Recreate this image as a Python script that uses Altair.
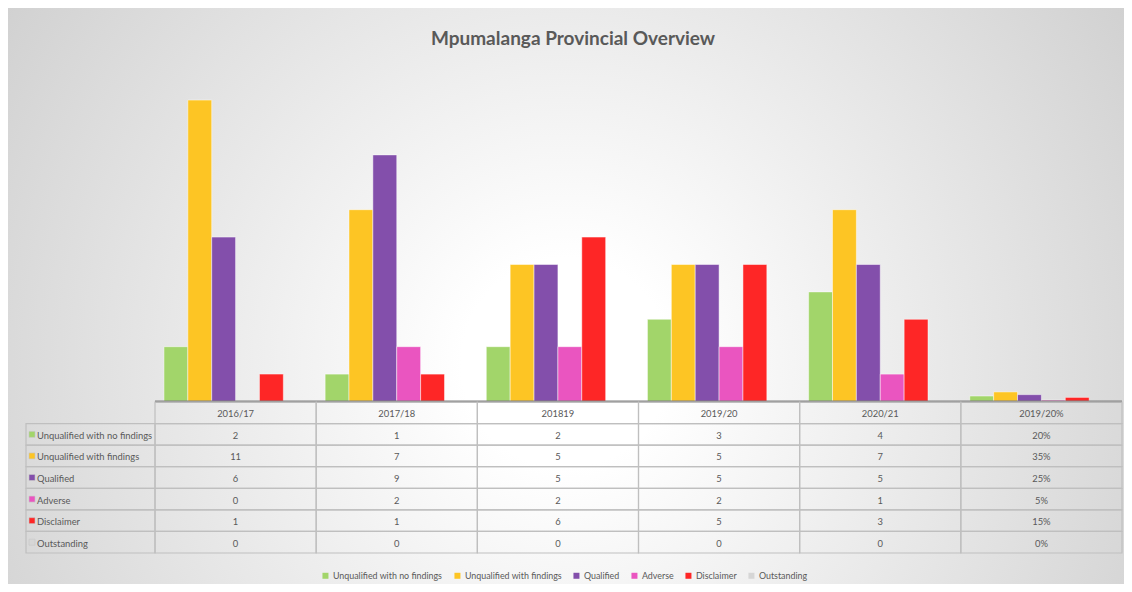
import altair as alt
import pandas as pd

# ---------------- data ----------------
categories = ["2016/17", "2017/18", "201819", "2019/20", "2020/21", "2019/20%"]
series = ["Unqualified with no findings", "Unqualified with findings", "Qualified",
          "Adverse", "Disclaimer", "Outstanding"]
no_findings = [2, 1, 2, 3, 4, 0.20]
with_findings = [11, 7, 5, 5, 7, 0.35]
qualified = [6, 9, 5, 5, 5, 0.25]
adverse = [0, 2, 2, 2, 1, 0.05]
disclaimer = [1, 1, 6, 5, 3, 0.15]
outstanding = [0, 0, 0, 0, 0, 0]
colors = ["#a2d56a", "#fdc524", "#834fab", "#ea55c0", "#fe2626", "#d6d6d6"]
title_text = "Mpumalanga Provincial Overview"

all_values = [no_findings, with_findings, qualified, adverse, disclaimer, outstanding]
rows = []
for s, vals in zip(series, all_values):
    for c, v in zip(categories, vals):
        label = f"{round(v * 100)}%" if c.endswith("%") else f"{v:g}"
        rows.append({"category": c, "series": s, "value": v, "label": label, "row": s})
df = pd.DataFrame(rows)
bars_df = df[df["value"] > 0]
header_df = pd.DataFrame({"category": categories, "row": "header"})
series_df = pd.DataFrame({"series": series, "row": series})
one = pd.DataFrame({"a": [0]})

# ---------------- style ----------------
W, H = 1116, 576
FONT = "Lato, sans-serif"
TXT = "#595959"
GRID = "#bfbfbf"
FS = 9.4
LFS = 8.9

X_SCALE = alt.Scale(domain=categories, range=[147, 1114], paddingInner=0, paddingOuter=0)
COLOR_SCALE = alt.Scale(domain=series, range=colors)
ROW_SCALE = alt.Scale(domain=["header"] + series, range=[394, 545], paddingInner=0, paddingOuter=0)

# background
bg = alt.Chart(one).mark_rect(
    fill={"gradient": "radial", "x1": 0.5, "y1": 0.56, "r1": 0, "x2": 0.5, "y2": 0.56, "r2": 0.78,
          "stops": [{"offset": 0, "color": "#ffffff"}, {"offset": 0.12, "color": "#ffffff"},
                    {"offset": 1, "color": "#c0c0c0"}]},
).encode(x=alt.value(0), x2=alt.value(W), y=alt.value(0), y2=alt.value(H))

# bars
bars = alt.Chart(bars_df).mark_bar(stroke="white", strokeWidth=0.8, strokeOpacity=0.6).encode(
    x=alt.X("category:N", scale=X_SCALE, axis=None, sort=categories),
    xOffset=alt.XOffset("series:N", scale=alt.Scale(domain=series, paddingInner=0, paddingOuter=0.375)),
    y=alt.Y("value:Q", scale=alt.Scale(domain=[0, 12], range=[393.5, 64.7], nice=False, zero=True), axis=None),
    color=alt.Color("series:N", scale=COLOR_SCALE, legend=alt.Legend(
        orient="none", legendX=313, legendY=563, direction="horizontal", columns=6, title=None,
        symbolType="square", symbolSize=36, symbolStrokeWidth=0, labelFont=FONT, labelFontSize=LFS,
        labelColor=TXT, columnPadding=10, labelOffset=3, padding=0)),
)
baseline = alt.Chart(one).mark_rule(color="#808080", strokeWidth=2).encode(
    x=alt.value(147), x2=alt.value(1114), y=alt.datum(0))
top = alt.layer(bars, baseline)

# table
cells = alt.Chart(pd.concat([header_df, df[["category", "row"]]])).mark_rect(
    fill="transparent", stroke=GRID, strokeWidth=1.2).encode(
    x=alt.X("category:N", scale=X_SCALE, axis=None),
    y=alt.Y("row:N", scale=ROW_SCALE, axis=None))
label_cells = alt.Chart(series_df).mark_rect(
    fill="transparent", stroke=GRID, strokeWidth=1.2).encode(
    x=alt.value(18), x2=alt.value(147),
    y=alt.Y("row:N", scale=ROW_SCALE, axis=None))
header_text = alt.Chart(header_df).mark_text(font=FONT, fontSize=FS, color=TXT, dy=1.5).encode(
    x=alt.X("category:N", scale=X_SCALE, axis=None),
    y=alt.Y("row:N", scale=ROW_SCALE, axis=None),
    text="category:N")
value_text = alt.Chart(df).mark_text(font=FONT, fontSize=FS, color=TXT, dy=1.5).encode(
    x=alt.X("category:N", scale=X_SCALE, axis=None),
    y=alt.Y("row:N", scale=ROW_SCALE, axis=None),
    text="label:N")
row_text = alt.Chart(series_df).mark_text(font=FONT, fontSize=FS, color=TXT, align="left", dy=1.5).encode(
    x=alt.value(29),
    y=alt.Y("row:N", scale=ROW_SCALE, axis=None),
    text="series:N")
row_swatch = alt.Chart(series_df).mark_square(size=36, opacity=1, stroke="#c8c8c8", strokeWidth=0.6).encode(
    x=alt.value(24),
    y=alt.Y("row:N", scale=ROW_SCALE, axis=None),
    color=alt.Color("series:N", scale=COLOR_SCALE))
table = alt.layer(cells, label_cells, header_text, value_text, row_text, row_swatch)

title = alt.Chart(one).mark_text(font=FONT, fontSize=19, fontWeight="bold", color=TXT,
                                 align="center", baseline="middle").encode(
    x=alt.value(565), y=alt.value(31), text=alt.value(title_text))

chart = alt.layer(bg, top, table, title).resolve_scale(y="independent").properties(
    width=W, height=H, padding=0,
    autosize=alt.AutoSizeParams(type="fit", contains="padding"),
).configure_view(stroke=None)

chart.save("out.html", embed_options={"renderer": "svg", "actions": False})
